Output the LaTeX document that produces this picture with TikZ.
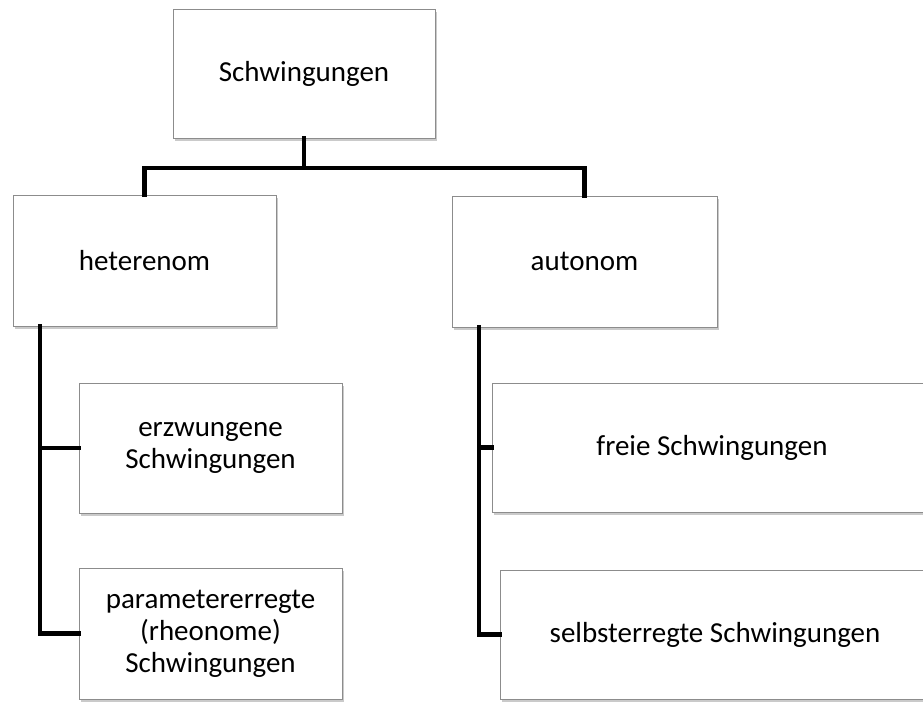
\documentclass[tikz,border=0pt]{standalone}
\usepackage{fontspec}
\setmainfont{Carlito}
\usetikzlibrary{shadows}
\begin{document}
\begin{tikzpicture}[x=1pt,y=-1pt,
  boxnode/.style={draw=black!45, line width=0.8pt, fill=white, rectangle, inner sep=0pt,
    align=center, font=\fontsize{29}{32}\selectfont,
    drop shadow={opacity=0.35, shadow xshift=1.5pt, shadow yshift=-2.5pt, fill=black!60}},
  conn/.style={line width=4.5pt, draw=black}]
\path[use as bounding box, clip] (0,0) rectangle (923,702);
\node[boxnode, minimum width=262pt, minimum height=129pt] (top) at (304,73.5) {Schwingungen};
\node[boxnode, minimum width=263pt, minimum height=131pt] (het) at (144.5,260.5) {heterenom};
\node[boxnode, minimum width=265pt, minimum height=131pt] (aut) at (584.5,261.5) {autonom};
\node[boxnode, minimum width=263pt, minimum height=130pt] (erz) at (210.5,448) {erzwungene\\Schwingungen};
\node[boxnode, minimum width=263pt, minimum height=131pt] (par) at (210.5,633.5) {parametererregte\\(rheonome)\\Schwingungen};
\node[boxnode, minimum width=440pt, minimum height=129pt] (frei) at (712,447.5) {freie Schwingungen};
\node[boxnode, minimum width=430pt, minimum height=129pt] (selb) at (715,634.5) {selbsterregte Schwingungen};
\coordinate (j) at (304,168);
\coordinate (lt) at (40,326);
\coordinate (rt) at (479,327);
\begin{scope}[line cap=rect]
\draw[conn] (top.south) -- (j);
\draw[conn] (het.north) |- (j) -| (aut.north);
\draw[conn] (lt) |- (erz.west);
\draw[conn] (lt) |- (par.west);
\draw[conn] (rt) |- (frei.west);
\draw[conn] (rt) |- (selb.west);
\end{scope}
\end{tikzpicture}
\end{document}
